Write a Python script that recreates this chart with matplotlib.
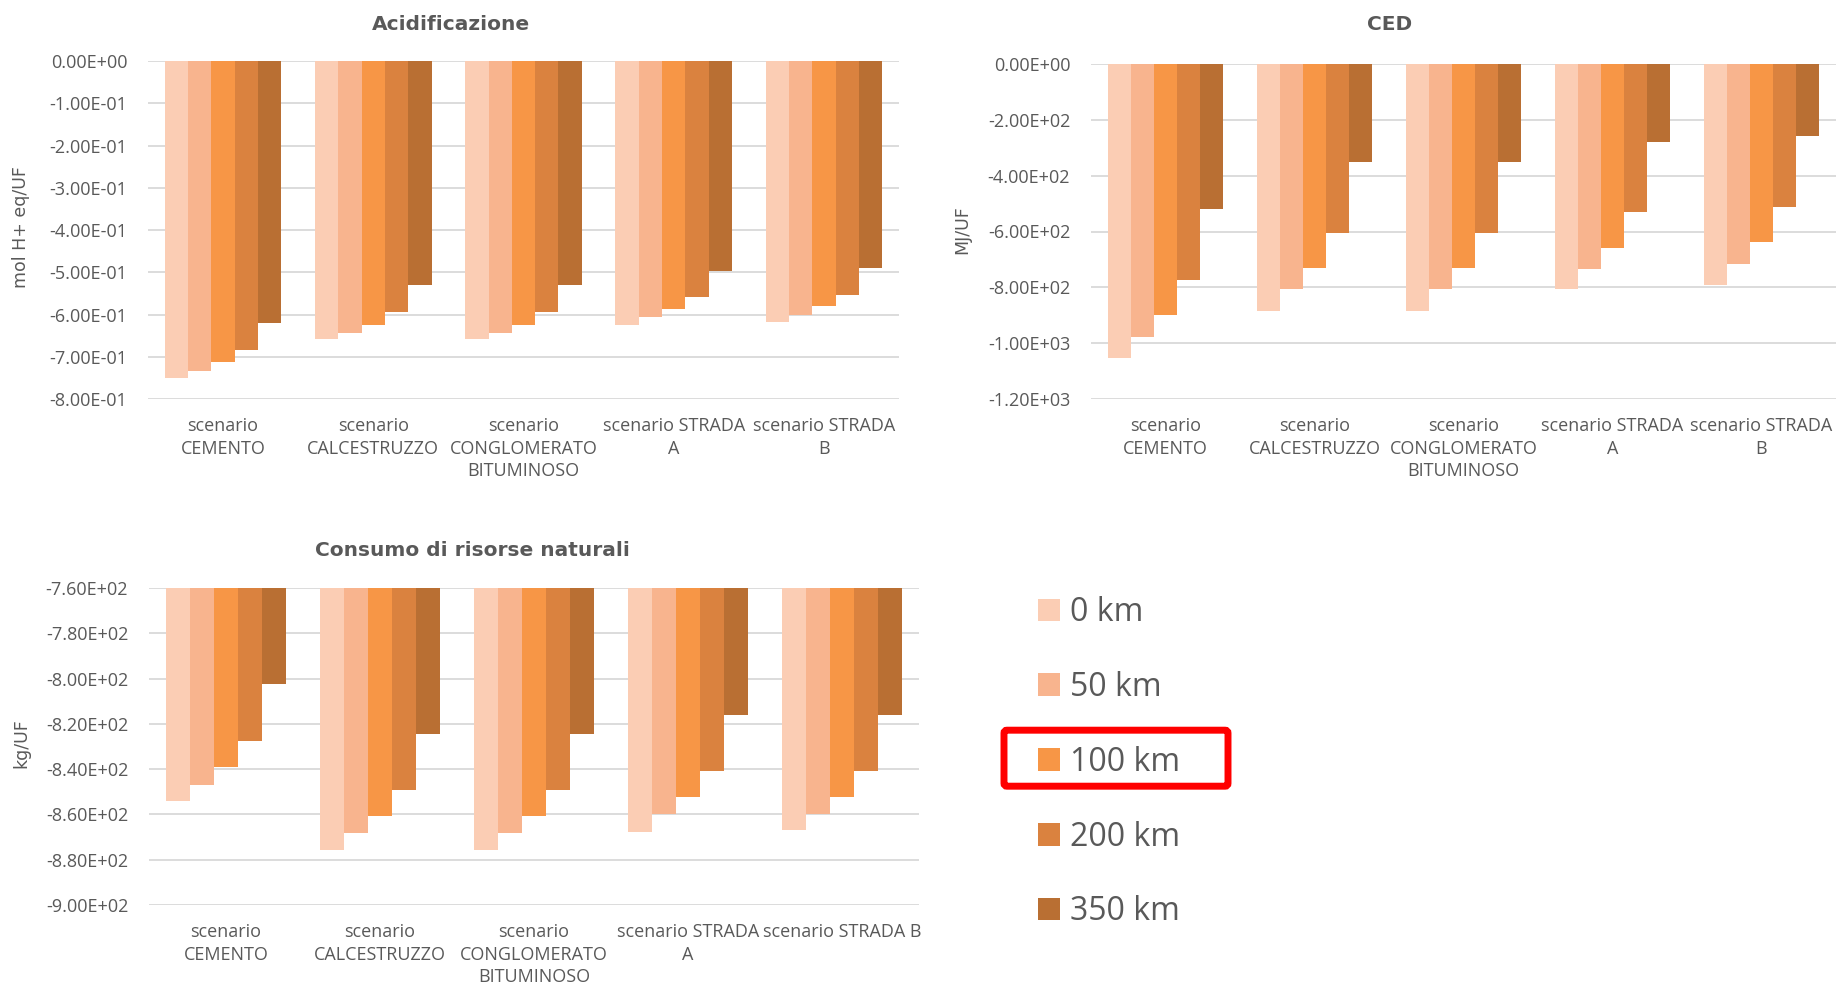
import numpy as np
import matplotlib
matplotlib.use("Agg")
import matplotlib.pyplot as plt
from matplotlib.patches import Patch, FancyBboxPatch

plt.rcParams['font.family'] = ['Open Sans', 'DejaVu Sans']

# Data
distances = ["0 km", "50 km", "100 km", "200 km", "350 km"]
colors = ["#FBCDB4", "#F8B48E", "#F79646", "#DA823F", "#B96F33"]

scenarios = ["scenario\nCEMENTO", "scenario\nCALCESTRUZZO",
             "scenario\nCONGLOMERATO\nBITUMINOSO", "scenario STRADA\nA",
             "scenario STRADA\nB"]
scenarios_cons = scenarios[:4] + ["scenario STRADA B"]

# rows = scenario, columns = distance
acid = np.array([
    [-0.750, -0.733, -0.713, -0.683, -0.621],
    [-0.659, -0.643, -0.624, -0.593, -0.531],
    [-0.659, -0.643, -0.624, -0.593, -0.531],
    [-0.625, -0.606, -0.588, -0.559, -0.498],
    [-0.618, -0.601, -0.580, -0.553, -0.491],
])
ced = np.array([
    [-1052, -977, -899, -774, -519],
    [-884, -807, -731, -604, -350],
    [-884, -807, -731, -604, -350],
    [-807, -736, -658, -531, -278],
    [-793, -715, -639, -513, -258],
])
cons = np.array([
    [-854.2, -846.8, -839.1, -827.4, -802.6],
    [-875.5, -868.2, -860.9, -849.2, -824.4],
    [-875.5, -868.2, -860.9, -849.2, -824.4],
    [-867.6, -859.7, -852.4, -840.7, -816.1],
    [-867.0, -859.7, -852.4, -840.7, -816.1],
])

W, H = 1836, 983
TXT = "#595959"
GRID = "#D9D9D9"


def px_axes(x0, y0, x1, y1):
    # pixel box (top-left origin) -> figure fraction
    return [x0 / W, 1 - y1 / H, (x1 - x0) / W, (y1 - y0) / H]


def bar_panel(ax, data, labels, top, bottom, step):
    n = data.shape[1]
    w = 0.155
    idx = np.arange(data.shape[0])
    for j in range(n):
        ax.bar(idx + (j - (n - 1) / 2) * w, data[:, j] - top, bottom=top,
               width=w, color=colors[j], linewidth=0)
    ax.set_xlim(-0.5, data.shape[0] - 0.5)
    ax.set_ylim(bottom, top)
    ticks = np.arange(top, bottom - step / 2, -step)
    ax.set_yticks(ticks)
    ax.set_yticklabels([f"{t:.2E}" for t in ticks])
    ax.set_xticks(idx)
    ax.set_xticklabels(labels, linespacing=1.33)
    ax.tick_params(axis='both', length=0, labelsize=13, labelcolor=TXT)
    ax.tick_params(axis='y', pad=15)
    ax.tick_params(axis='x', pad=13)
    for s in ax.spines.values():
        s.set_visible(False)
    ax.yaxis.grid(True, color=GRID, lw=1.3)
    ax.set_axisbelow(True)


fig = plt.figure(figsize=(W / 100, H / 100), dpi=100)

ax1 = fig.add_axes(px_axes(148, 61, 899, 399))
bar_panel(ax1, acid, scenarios, 0.0, -0.8, 0.1)
ax2 = fig.add_axes(px_axes(1091, 64, 1836, 399))
bar_panel(ax2, ced, scenarios, 0.0, -1200, 200)
ax3 = fig.add_axes(px_axes(149, 588, 919, 905))
bar_panel(ax3, cons, scenarios_cons, -760, -900, 20)

title_kw = dict(ha='center', va='center', fontsize=14.5, fontweight='bold',
                color=TXT, family=['DejaVu Sans'])
fig.text(451 / W, 1 - 24 / H, "Acidificazione", **title_kw)
fig.text(1390 / W, 1 - 25 / H, "CED", **title_kw)
fig.text(472 / W, 1 - 551 / H, "Consumo di risorse naturali", **title_kw)

ylab_kw = dict(ha='center', va='center', rotation=90, fontsize=12.5,
               color=TXT, family=['DejaVu Sans'])
fig.text(21 / W, 1 - 227 / H, "mol H+ eq/UF", **ylab_kw)
fig.text(962 / W, 1 - 230 / H, "MJ/UF", **ylab_kw)
fig.text(21 / W, 1 - 743 / H, "kg/UF", **ylab_kw)

handles = [Patch(facecolor=c, edgecolor='none') for c in colors]
leg = fig.legend(handles, distances, loc='upper left',
                 bbox_to_anchor=(1038 / W, 1 - 596 / H), frameon=False,
                 fontsize=23, labelcolor=TXT, handlelength=0.7,
                 handleheight=0.7, handletextpad=0.3, labelspacing=1.31,
                 borderpad=0, borderaxespad=0)

# red highlight box around the "100 km" entry
fig.canvas.draw()
tb = leg.get_texts()[2].get_window_extent()
cy = (tb.y0 + tb.y1) / 2 + 4
box = FancyBboxPatch((1004, cy - 28), 224, 56, boxstyle="round,pad=0,rounding_size=3",
                     transform=None, fill=False, edgecolor="#FF0000", lw=5)
fig.patches.append(box)

fig.savefig("out.png", dpi=100)
